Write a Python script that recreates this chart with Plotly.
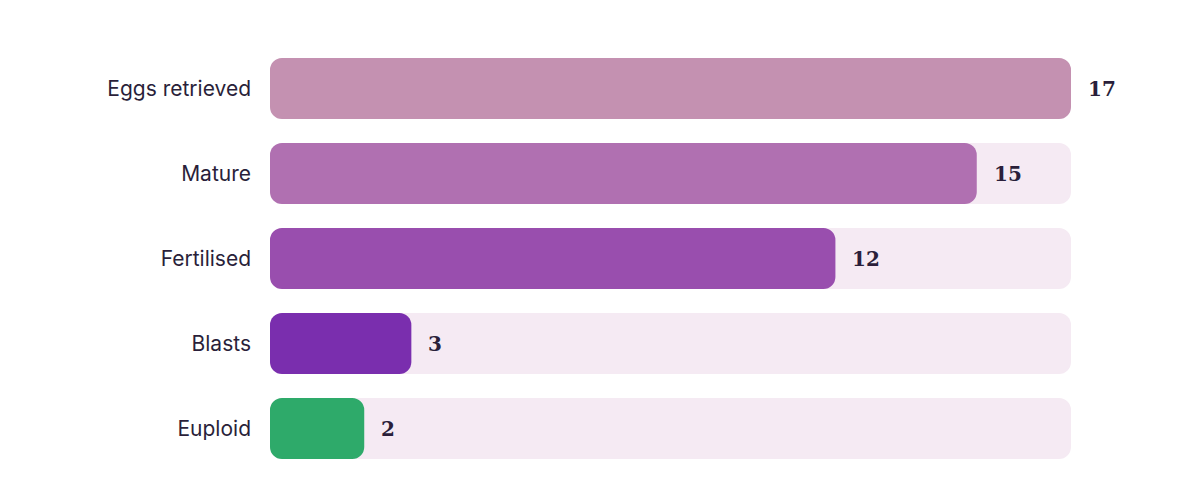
import plotly.graph_objects as go

categories = ["Eggs retrieved", "Mature", "Fertilised", "Blasts", "Euploid"]
values = [17, 15, 12, 3, 2]
track_max = [17, 17, 17, 17, 17]
bar_base = [0, 0, 0, 0, 0]
colors = ["#c491b1", "#b070b1", "#994eae", "#7a2eae", "#2eaa6a"]
track_color = "#f5eaf3"
text_color = "#2a1f3a"

BAR_W = 0.72
RADIUS = 12

fig = go.Figure()
# background track (explicit base -> both ends rounded)
fig.add_trace(go.Bar(
    y=categories, x=track_max, base=bar_base, orientation="h", yaxis="y",
    marker=dict(color=track_color, line=dict(width=0), cornerradius=RADIUS),
    width=BAR_W, showlegend=False, hoverinfo="skip",
))
# value bars on an overlaying axis so they are drawn above the track
fig.add_trace(go.Bar(
    y=categories, x=values, base=bar_base, orientation="h", yaxis="y2",
    marker=dict(color=colors, line=dict(width=0), cornerradius=RADIUS),
    width=BAR_W, showlegend=False,
    hovertemplate="%{y}: %{x}<extra></extra>",
))

for c, v in zip(categories, values):
    fig.add_annotation(
        x=v, y=c, text=f"<b>{v}</b>", showarrow=False,
        xanchor="left", yanchor="middle", xshift=15,
        font=dict(family="DejaVu Serif", size=20, color=text_color),
    )

fig.update_layout(
    width=1200, height=492,
    margin=dict(l=270, r=129, t=46, b=21),
    barmode="overlay",
    plot_bgcolor="white", paper_bgcolor="white",
    xaxis=dict(range=[0, 17], visible=False, showgrid=False, zeroline=False),
    yaxis=dict(
        autorange="reversed", showgrid=False, zeroline=False, showline=False,
        ticks="", ticklabelstandoff=18,
        tickfont=dict(family="Inter", size=21, color=text_color),
    ),
    yaxis2=dict(
        overlaying="y", matches="y", visible=False, showgrid=False, zeroline=False,
        autorange="reversed",
    ),
)

fig.write_html("out.html")
